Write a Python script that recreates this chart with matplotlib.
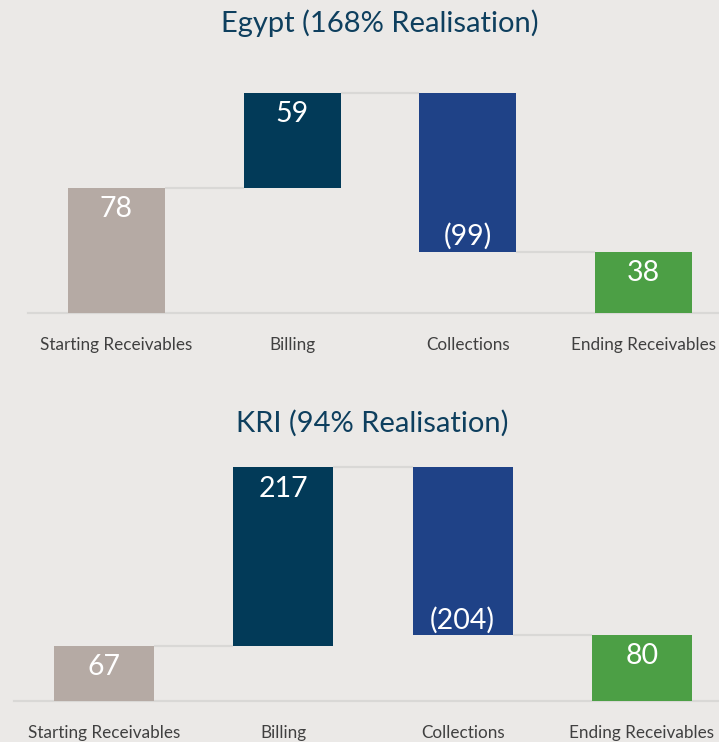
import matplotlib
matplotlib.use("Agg")
import matplotlib.pyplot as plt

categories = ["Starting Receivables", "Billing", "Collections", "Ending Receivables"]
egypt_title = "Egypt (168% Realisation)"
egypt_values = [78, 59, -99, 38]
kri_title = "KRI (94% Realisation)"
kri_values = [67, 217, -204, 80]

BG = "#EBE9E7"
colors = ["#B5AAA4", "#023A58", "#1F4287", "#4C9F45"]
grid_c = "#D9D8D6"
title_c = "#0E3F5E"
tick_c = "#404040"
FONT = ["Lato", "DejaVu Sans"]

fig = plt.figure(figsize=(7.19, 7.42), dpi=100, facecolor=BG)


def waterfall(ax, values, width, ymax, title, title_xy):
    ax.set_facecolor(BG)
    start, bill, coll, end = values
    bottoms = [0, start, start + bill + coll, 0]
    heights = [start, bill, -coll, end]
    xs = list(range(len(values)))
    ax.bar(xs, heights, bottom=bottoms, width=width, color=colors, zorder=3)
    levels = [start, start + bill, start + bill + coll]
    for i, lv in enumerate(levels):
        ax.plot([i + width / 2, i + 1 - width / 2], [lv, lv], color=grid_c,
                lw=1.6, zorder=2, solid_capstyle="butt")
    for i, v in enumerate(values):
        if v < 0:
            txt = f"({-v})"
            y = bottoms[i]
            off = 11.0
        else:
            txt = f"{v}"
            y = bottoms[i] + heights[i]
            off = -15.3
        ax.annotate(txt, (i, y), xytext=(0, off), textcoords="offset points",
                    ha="center", va="center", color="white", fontsize=20.5,
                    family=FONT, zorder=4)
    ax.set_ylim(0, ymax)
    ax.set_xticks(xs)
    ax.set_xticklabels(categories, family=FONT, fontsize=12.3, color=tick_c)
    ax.tick_params(axis="x", length=0, pad=17.5)
    ax.set_yticks([])
    for s in ["top", "left", "right"]:
        ax.spines[s].set_visible(False)
    ax.spines["bottom"].set_color(grid_c)
    ax.spines["bottom"].set_linewidth(1.6)
    fig.text(title_xy[0], title_xy[1], title, ha="center", va="center",
             fontsize=21, color=title_c, family=FONT)


# Top chart (Egypt)
ax1 = fig.add_axes([28 / 719, (742 - 313) / 742, 691 / 719, 253 / 742])
waterfall(ax1, egypt_values, 0.552, 253 / 1.607, egypt_title, (380 / 719, 1 - 23 / 742))
ax1.set_xlim(-(116.5 - 28) / 175.67, 3 + (719 - 643.5) / 175.67)

# Bottom chart (KRI)
ax2 = fig.add_axes([14 / 719, (742 - 701) / 742, 705 / 719, 251 / 742])
waterfall(ax2, kri_values, 0.558, 251 / 0.823, kri_title, (372 / 719, 1 - 423 / 742))
ax2.set_xlim(-(104 - 14) / 179.3, 3 + (719 - 642) / 179.3)

fig.savefig("out.png", dpi=100, facecolor=BG)
